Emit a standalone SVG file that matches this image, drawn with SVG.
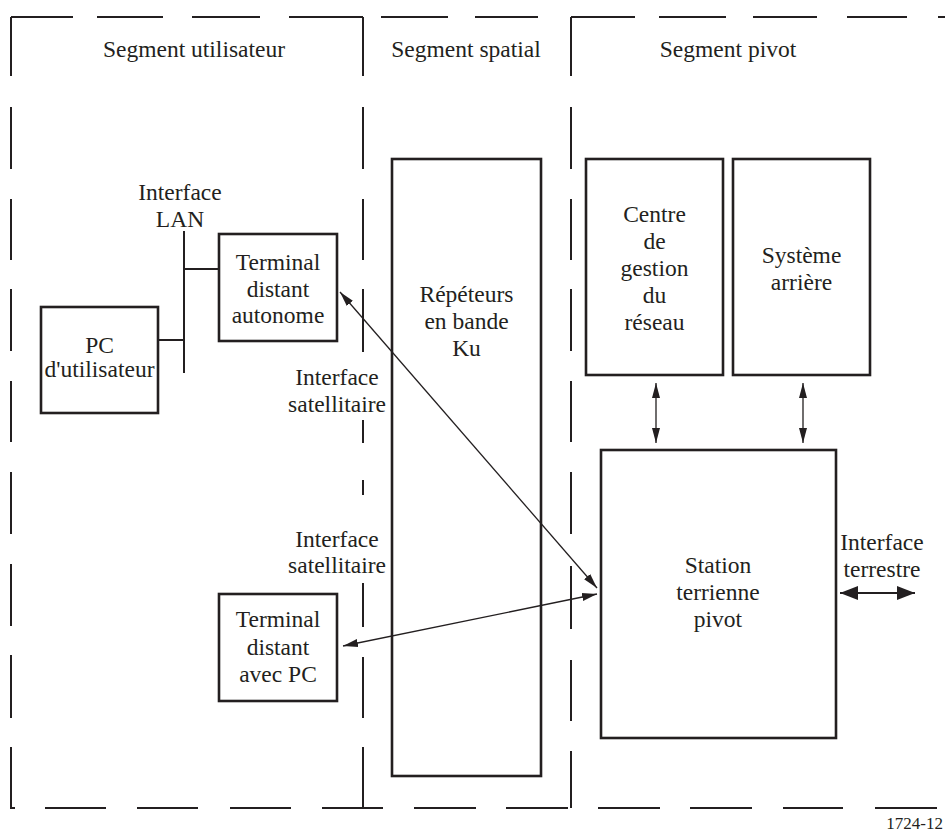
<svg xmlns="http://www.w3.org/2000/svg" width="945" height="832" viewBox="0 0 945 832">
<defs>
<style>
.frame{fill:none;stroke:#231f20;stroke-width:2}
.box{fill:none;stroke:#231f20;stroke-width:2.6}
.wire{fill:none;stroke:#231f20;stroke-width:2}
.conn{fill:none;stroke:#231f20;stroke-width:1.3}
.t{font-family:"Liberation Serif","Times New Roman","DejaVu Serif",serif;font-size:23.5px;fill:#231f20;text-anchor:middle}
.fig{font-family:"Liberation Serif","Times New Roman","DejaVu Serif",serif;font-size:17px;fill:#231f20;text-anchor:end}
</style>
<marker id="ah" viewBox="0 0 15 10" refX="15" refY="5" markerWidth="15" markerHeight="10" markerUnits="userSpaceOnUse" orient="auto-start-reverse">
<path d="M0,1 L15,5 L0,9 z" fill="#231f20"/>
</marker>
<marker id="ahb" viewBox="0 0 18 14" refX="18" refY="7" markerWidth="18" markerHeight="14" markerUnits="userSpaceOnUse" orient="auto-start-reverse">
<path d="M0,0 L18,7 L0,14 z" fill="#231f20"/>
</marker>
</defs>
<rect width="945" height="832" fill="#fff"/>

<g id="frame">
<path class="frame" d="M11,17 H73 M97,17 H163 M192,17 H260 M289,17 H363 M381,17 H448 M475,17 H538 M571,17 H635 M659,17 H726 M753,17 H817 M847,17 H907 M938,17 H945"/>
<path class="frame" d="M11,17 V76 M11,107 V169 M11,199 V260 M11,289 V351 M11,381 V442 M11,472 V534 M11,564 V626 M11,655 V718 M11,747 V808 H15"/>
<path class="frame" d="M363,17 V76 M363,107 V169 M363,199 V260 M363,289 V352 M363,420 V443 M363,480 V495 M363,583 V627 M363,657 V718 M363,747 V808"/>
<path class="frame" d="M571,17 V76 M571,107 V169 M571,199 V260 M571,289 V351 M571,381 V442 M571,472 V534 M571,566 V629 M571,660 V721 M571,751 V808"/>
<path class="frame" d="M45,808 H106 M137,808 H198 M230,808 H291 M322,808 H383 M414,808 H476 M506,808 H568 M598,808 H660 M690,808 H752 M783,808 H843 M875,808 H937"/>
<text class="t" x="194" y="57">Segment utilisateur</text>
<text class="t" x="466" y="57">Segment spatial</text>
<text class="t" x="728" y="57">Segment pivot</text>
</g>

<g id="pc-utilisateur">
<rect class="box" x="41" y="307" width="117" height="106"/>
<text class="t" x="99.5" y="353">PC</text>
<text class="t" x="99.5" y="377">d'utilisateur</text>
</g>

<g id="lan">
<path class="wire" d="M184,231 V373"/>
<text class="t" x="180" y="200">Interface</text>
<text class="t" x="180" y="227">LAN</text>
</g>

<g id="terminal-autonome">
<rect class="box" x="219" y="234" width="118" height="107"/>
<text class="t" x="278" y="270">Terminal</text>
<text class="t" x="278" y="297">distant</text>
<text class="t" x="278" y="323">autonome</text>
</g>

<g id="terminal-pc">
<rect class="box" x="219" y="594" width="118" height="107"/>
<text class="t" x="278" y="627">Terminal</text>
<text class="t" x="278" y="655">distant</text>
<text class="t" x="278" y="682">avec PC</text>
</g>

<g id="repeteurs">
<rect class="box" x="392" y="159" width="149" height="617"/>
<text class="t" x="466.5" y="302">Répéteurs</text>
<text class="t" x="466.5" y="329">en bande</text>
<text class="t" x="466.5" y="356">Ku</text>
</g>

<g id="centre-gestion">
<rect class="box" x="586" y="159" width="137" height="216"/>
<text class="t" x="654.5" y="222">Centre</text>
<text class="t" x="654.5" y="249">de</text>
<text class="t" x="654.5" y="276">gestion</text>
<text class="t" x="654.5" y="303">du</text>
<text class="t" x="654.5" y="330">réseau</text>
</g>

<g id="systeme-arriere">
<rect class="box" x="733" y="159" width="137" height="216"/>
<text class="t" x="801.5" y="263">Système</text>
<text class="t" x="801.5" y="290">arrière</text>
</g>

<g id="station-pivot">
<rect class="box" x="601" y="450" width="235" height="288"/>
<text class="t" x="718" y="573">Station</text>
<text class="t" x="718" y="600">terrienne</text>
<text class="t" x="718" y="627">pivot</text>
</g>

<g id="connectors">
<path class="wire" d="M158,340 H184 M184,269 H219"/>
<path class="conn" d="M340,292 L597,588" marker-start="url(#ah)" marker-end="url(#ah)"/>
<path class="conn" d="M343,646 L597,594" marker-start="url(#ah)" marker-end="url(#ah)"/>
<path class="conn" d="M656,383 V443" marker-start="url(#ah)" marker-end="url(#ah)"/>
<path class="conn" d="M803,383 V443" marker-start="url(#ah)" marker-end="url(#ah)"/>
<path class="wire" d="M840,593 H915" marker-start="url(#ahb)" marker-end="url(#ahb)"/>
</g>

<g id="labels">
<text class="t" x="337" y="385">Interface</text>
<text class="t" x="337" y="412">satellitaire</text>
<text class="t" x="337" y="547">Interface</text>
<text class="t" x="337" y="573">satellitaire</text>
<text class="t" x="882" y="550">Interface</text>
<text class="t" x="882" y="577">terrestre</text>
<text class="fig" x="943" y="829">1724-12</text>
</g>
</svg>
